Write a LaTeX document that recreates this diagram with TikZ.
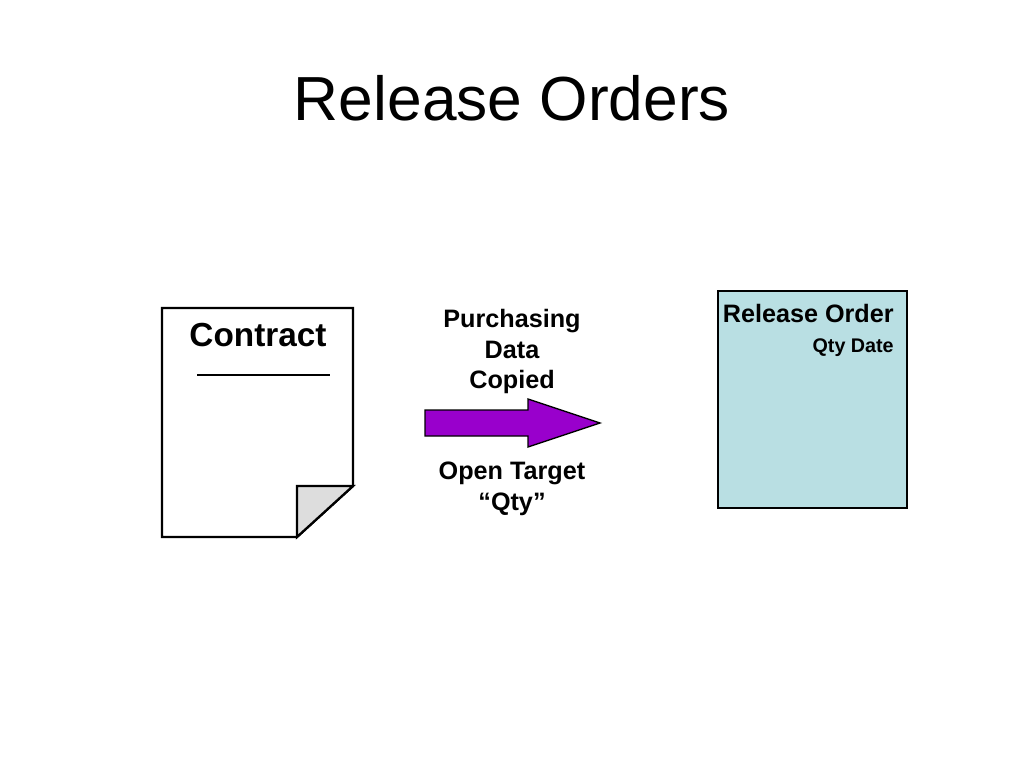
\documentclass[tikz,border=0pt]{standalone}
\usepackage{fontspec}
\setmainfont{Liberation Sans}
\definecolor{arrowpurple}{HTML}{9900CC}
\definecolor{foldgray}{HTML}{DDDDDD}
\definecolor{roblue}{HTML}{B9DFE3}
\begin{document}
\begin{tikzpicture}[x=0.75pt,y=-0.75pt,
  lbl/.style={inner sep=0pt,font=\bfseries\fontsize{18.9}{22.9}\selectfont,align=center},
  doc/.style={line width=1.7pt,line join=miter}]
\useasboundingbox (0,0) rectangle (1024,768);
\fill[white] (0,0) rectangle (1024,768);
% title
\node[anchor=base,inner sep=0pt,font=\fontsize{46.7}{50}\selectfont] (title) at (512,120) {Release Orders};
% contract page
\draw[doc,fill=white] (162,308) -- (353,308) -- (353,486) -- (297,537) -- (162,537) -- cycle;
\draw[doc,fill=foldgray] (297,486) -- (353,486) -- (297,537) -- cycle;
\node[anchor=base,inner sep=0pt,font=\bfseries\fontsize{25}{30}\selectfont] (contract) at (258,346) {Contract};
\coordinate (ruleL) at (197,375);
\coordinate (ruleR) at (330,375);
\draw[line width=1.8pt] (ruleL) -- (ruleR);
% arrow
\draw[line width=1pt,fill=arrowpurple,line join=miter]
  (425,410) -- (528,410) -- (528,399) -- (600,423) -- (528,447) -- (528,436) -- (425,436) -- cycle;
\node[lbl,anchor=north] (copied) at (512,309) {Purchasing\\Data\\Copied};
\node[lbl,anchor=north] (target) at (512,462) {Open Target\\“Qty”};
% release order
\node[draw,line width=1.8pt,fill=roblue,minimum width=141.75pt,minimum height=162.75pt,anchor=north west,inner sep=0pt] (ro) at (717,290) {};
\node[anchor=base east,inner sep=0pt,font=\bfseries\fontsize{18.9}{22}\selectfont] (rotitle) at (894,322) {Release Order};
\node[anchor=base east,inner sep=0pt,font=\bfseries\fontsize{14.8}{18}\selectfont] (qtydate) at (894,352) {Qty Date};
\end{tikzpicture}
\end{document}
